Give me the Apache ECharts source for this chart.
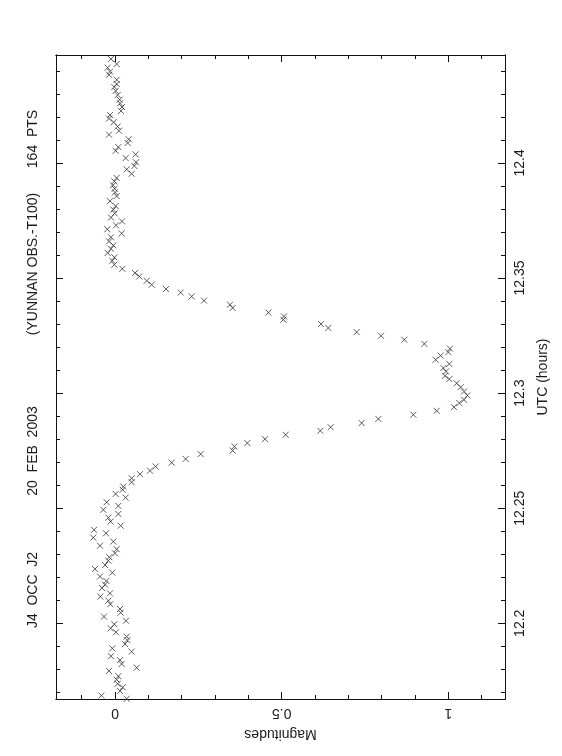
<!DOCTYPE html>
<html><head><meta charset="utf-8">
<script src="https://cdn.jsdelivr.net/npm/echarts@6/dist/echarts.min.js"></script>
<style>html,body{margin:0;padding:0;background:#fff}#c{width:562px;height:756px}</style>
</head><body><div id="c"></div>
<script>
// UTC time (hours) of each measurement
const utcHours = [
12.4452, 12.4430, 12.4414, 12.4397, 12.4383, 12.4361, 12.4343, 12.4330, 12.4313, 12.4295,
12.4275, 12.4259, 12.4243, 12.4226, 12.4208, 12.4193, 12.4177, 12.4158, 12.4140, 12.4123,
12.4103, 12.4087, 12.4069, 12.4053, 12.4037, 12.4021, 12.4003, 12.3987, 12.3972, 12.3953,
12.3935, 12.3920, 12.3903, 12.3888, 12.3872, 12.3856, 12.3834, 12.3813, 12.3797, 12.3781,
12.3763, 12.3746, 12.3729, 12.3712, 12.3694, 12.3677, 12.3659, 12.3642, 12.3627, 12.3609,
12.3590, 12.3575, 12.3558, 12.3540, 12.3522, 12.3507, 12.3488, 12.3471, 12.3452, 12.3437,
12.3420, 12.3402, 12.3384, 12.3370, 12.3350, 12.3333, 12.3319, 12.3300, 12.3283, 12.3265,
12.3249, 12.3232, 12.3214, 12.3193, 12.3178, 12.3163, 12.3145, 12.3127, 12.3109, 12.3094,
12.3075, 12.3061, 12.3043, 12.3026, 12.3007, 12.2990, 12.2971, 12.2957, 12.2939, 12.2923,
12.2906, 12.2888, 12.2870, 12.2852, 12.2836, 12.2819, 12.2800, 12.2783, 12.2768, 12.2750,
12.2735, 12.2714, 12.2698, 12.2681, 12.2663, 12.2648, 12.2630, 12.2613, 12.2594, 12.2580,
12.2562, 12.2546, 12.2526, 12.2510, 12.2493, 12.2475, 12.2459, 12.2442, 12.2424, 12.2406,
12.2391, 12.2372, 12.2355, 12.2337, 12.2322, 12.2304, 12.2287, 12.2272, 12.2253, 12.2236,
12.2220, 12.2203, 12.2184, 12.2168, 12.2153, 12.2130, 12.2116, 12.2098, 12.2083, 12.2062,
12.2046, 12.2029, 12.2011, 12.1996, 12.1978, 12.1961, 12.1942, 12.1927, 12.1910, 12.1891,
12.1877, 12.1857, 12.1840, 12.1823, 12.1807, 12.1793, 12.1770, 12.1755, 12.1737, 12.1722,
12.1706, 12.1686, 12.1672
];
// Relative magnitude of each measurement
const magnitudes = [
-0.012, 0.005, -0.022, -0.015, -0.018, 0.005, 0.005, -0.002, 0.002, 0.008,
0.014, 0.015, 0.021, 0.018, -0.015, -0.018, -0.004, 0.008, 0.012, -0.018,
0.041, 0.038, 0.010, 0.002, 0.062, 0.032, 0.063, 0.058, 0.035, 0.050,
0.005, -0.002, -0.006, -0.001, 0.000, 0.005, -0.015, 0.002, -0.005, -0.001,
-0.012, 0.021, 0.003, -0.023, 0.020, -0.012, -0.018, -0.005, -0.012, -0.022,
-0.002, -0.008, -0.002, 0.022, 0.060, 0.073, 0.095, 0.110, 0.153, 0.197,
0.230, 0.267, 0.345, 0.353, 0.460, 0.507, 0.505, 0.618, 0.640, 0.725,
0.798, 0.868, 0.928, 1.005, 1.000, 0.977, 0.962, 1.003, 0.985, 0.993,
0.990, 1.003, 1.025, 1.037, 1.047, 1.057, 1.047, 1.033, 1.017, 0.965,
0.895, 0.790, 0.740, 0.647, 0.616, 0.512, 0.450, 0.397, 0.358, 0.353,
0.257, 0.212, 0.170, 0.122, 0.105, 0.075, 0.050, 0.050, 0.025, 0.023,
0.002, 0.032, -0.025, 0.010, -0.035, 0.010, -0.020, -0.013, 0.017, -0.063,
-0.027, -0.065, -0.005, -0.045, 0.005, 0.000, -0.017, -0.020, -0.030, -0.060,
-0.008, -0.045, -0.026, -0.030, -0.039, -0.015, -0.044, -0.020, -0.014, 0.015,
0.017, -0.033, 0.033, -0.002, -0.013, 0.003, 0.035, 0.037, 0.030, -0.008,
0.050, -0.012, 0.015, 0.020, 0.065, -0.018, 0.010, 0.005, 0.008, 0.023,
0.015, -0.041, 0.035
];
const magRange = [-0.177, 1.170];
const utcRange = [12.1671, 12.4469];
const magMajorTicks = [0, 0.5, 1];
const magMinorTicks = [-0.1, 0.1, 0.2, 0.3, 0.4, 0.6, 0.7, 0.8, 0.9, 1.1];
const utcMajorTicks = [12.2, 12.25, 12.3, 12.35, 12.4];
const utcMinorTicks = [12.17, 12.18, 12.19, 12.21, 12.22, 12.23, 12.24, 12.26, 12.27, 12.28, 12.29,
  12.31, 12.32, 12.33, 12.34, 12.36, 12.37, 12.38, 12.39, 12.41, 12.42, 12.43, 12.44];
const magAxisName = 'Magnitudes';
const utcAxisName = 'UTC (hours)';
const headerTexts = ['J4  OCC  J2', '20  FEB  2003', '(YUNNAN OBS.-T100)', '164  PTS'];
const headerCenters = [590, 451, 264, 139];

const FONT = 'Liberation Sans';
const INK = '#1a1a1a';
const lineStyle = { color: '#111', width: 1 };

function xAx(pos, ticks, len, withLabel) {
  const a = {
    type: 'value', min: magRange[0], max: magRange[1], position: pos,
    axisLine: { show: true, onZero: false, lineStyle },
    axisTick: { show: true, inside: true, length: len, customValues: ticks, lineStyle },
    axisLabel: { show: false },
    splitLine: { show: false }
  };
  if (withLabel) {
    a.axisLabel = { show: true, customValues: ticks, rotate: 180, margin: 7,
      fontFamily: FONT, fontSize: 14, color: INK };
    a.name = magAxisName; a.nameLocation = 'middle'; a.nameGap = 28; a.nameRotate = 180;
    a.nameTextStyle = { fontFamily: FONT, fontSize: 14, color: INK };
  }
  return a;
}
function yAx(pos, ticks, len, withLabel) {
  const a = {
    type: 'value', min: utcRange[0], max: utcRange[1], position: pos,
    axisLine: { show: true, onZero: false, lineStyle },
    axisTick: { show: true, inside: true, length: len, customValues: ticks, lineStyle },
    axisLabel: { show: false },
    splitLine: { show: false }
  };
  if (withLabel) {
    a.axisLabel = { show: true, customValues: ticks, rotate: 90, margin: 8,
      fontFamily: FONT, fontSize: 14, color: INK };
    a.name = utcAxisName; a.nameLocation = 'middle'; a.nameGap = 31; a.nameRotate = 90;
    a.nameTextStyle = { fontFamily: FONT, fontSize: 14, color: INK };
  }
  return a;
}

const chart = echarts.init(document.getElementById('c'), null, { renderer: 'canvas' });
chart.setOption({
  animation: false,
  backgroundColor: '#ffffff',
  grid: { left: 56, top: 55, width: 449, height: 644, containLabel: false },
  xAxis: [
    xAx('bottom', magMajorTicks, 7, true),
    xAx('bottom', magMinorTicks, 4, false),
    xAx('top', magMajorTicks, 7, false),
    xAx('top', magMinorTicks, 4, false)
  ],
  yAxis: [
    yAx('right', utcMajorTicks, 7, true),
    yAx('right', utcMinorTicks, 4, false),
    yAx('left', utcMajorTicks, 7, false),
    yAx('left', utcMinorTicks, 4, false)
  ],
  graphic: headerTexts.map((t, i) => ({
    type: 'text', x: 33, y: headerCenters[i], rotation: Math.PI / 2,
    style: { text: t, fontFamily: FONT, fontSize: 14, fill: INK, align: 'center', verticalAlign: 'middle' }
  })),
  series: [{
    type: 'scatter', xAxisIndex: 0, yAxisIndex: 0, clip: false,
    symbol: 'path://M0,0L10,10M10,0L0,10', symbolSize: 6,
    itemStyle: { color: 'transparent', borderColor: '#333', borderWidth: 1 },
    data: utcHours.map((t, i) => [magnitudes[i], t])
  }]
});
</script></body></html>
